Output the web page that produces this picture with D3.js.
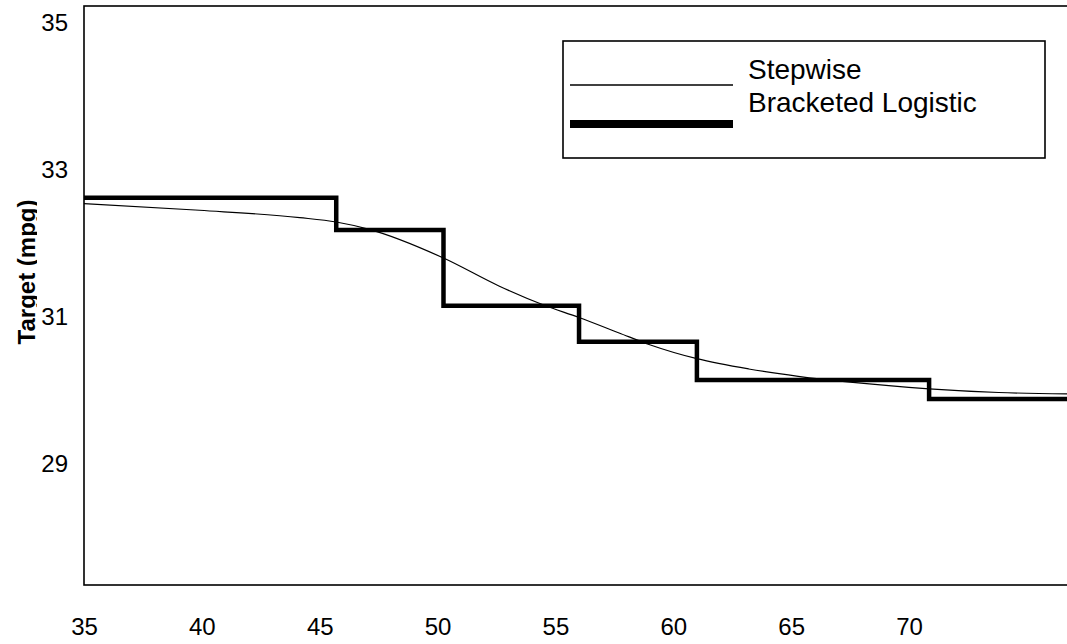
<!DOCTYPE html>
<html>
<head>
<meta charset="utf-8">
<script src="https://cdn.jsdelivr.net/npm/d3@7"></script>
<style>
  body { margin: 0; background: #fff; }
  svg { display: block; font-family: "Liberation Sans", Arial, sans-serif; }
</style>
</head>
<body>
<div id="chart"></div>
<script>
// tick labels
const x_ticks = [35, 40, 45, 50, 55, 60, 65, 70];
const y_ticks = [29, 31, 33, 35];

// stepwise target: bracket edges and level inside each bracket
const step_edges = [35, 45.7, 50.25, 56.0, 61.0, 70.85, 76.7];
const step_levels = [32.62, 32.18, 31.15, 30.66, 30.14, 29.88];

// logistic target
const logistic_x = [35, 39.9, 44.15, 45.7, 47.1, 50.25, 52.6, 54.5, 56.0, 57.7, 59.0, 61.0, 63.2, 65.3, 67.5, 70.85, 73.8, 76.7];
const logistic_y = [32.54, 32.45, 32.35, 32.29, 32.19, 31.8, 31.42, 31.16, 30.99, 30.78, 30.62, 30.43, 30.29, 30.19, 30.11, 30.02, 29.97, 29.95];

const legend_names = ["Stepwise", "Bracketed Logistic"];

const W = 1067, H = 644;
const plot_left = 84, plot_top = 6, plot_bottom = 585;

let svg = d3.select("#chart").append("svg")
    .attr("width", W)
    .attr("height", H);

let x = d3.scaleLinear().domain([35, 76.7]).range([plot_left, W]);
let y = d3.scaleLinear().domain([27.35, 35.23]).range([plot_bottom, plot_top]);

// plot frame (runs off the right edge)
svg.append("rect")
    .attr("x", plot_left)
    .attr("y", plot_top)
    .attr("width", W - plot_left + 10)
    .attr("height", plot_bottom - plot_top)
    .attr("fill", "none")
    .attr("stroke", "#000")
    .attr("stroke-width", 1.6);

let x_axis = svg.append("g")
    .attr("transform", "translate(0," + plot_bottom + ")")
    .call(d3.axisBottom(x).tickValues(x_ticks).tickSize(0).tickPadding(33).tickFormat(d3.format("d")));
x_axis.select(".domain").remove();
x_axis.selectAll("text").attr("font-size", 24).attr("fill", "#000")
    .attr("font-family", "Liberation Sans, Arial, sans-serif");

let y_axis = svg.append("g")
    .attr("transform", "translate(" + plot_left + ",0)")
    .call(d3.axisLeft(y).tickValues(y_ticks).tickSize(0).tickPadding(16).tickFormat(d3.format("d")));
y_axis.select(".domain").remove();
y_axis.selectAll("text").attr("font-size", 24).attr("fill", "#000")
    .attr("font-family", "Liberation Sans, Arial, sans-serif");

// axis title, descenders cut off as in the original
svg.append("clipPath").attr("id", "title_clip")
  .append("rect").attr("x", 0).attr("y", 0).attr("width", 37).attr("height", H);

svg.append("g")
    .attr("clip-path", "url(#title_clip)")
  .append("text")
    .attr("transform", "translate(35,272) rotate(-90)")
    .attr("text-anchor", "middle")
    .attr("font-size", 24)
    .attr("font-weight", "bold")
    .text("Target (mpg)");

let plot = svg.append("g");

// logistic curve (thin)
let logistic_pts = logistic_x.map(function(d, i) { return [d, logistic_y[i]]; });
plot.append("path")
    .datum(logistic_pts)
    .attr("fill", "none")
    .attr("stroke", "#000")
    .attr("stroke-width", 1.2)
    .attr("d", d3.line()
      .x(function(d) { return x(d[0]); })
      .y(function(d) { return y(d[1]); })
      .curve(d3.curveMonotoneX));

// stepwise (thick)
let step_pts = step_levels.map(function(d, i) { return [step_edges[i], d]; });
step_pts.push([step_edges[step_edges.length - 1], step_levels[step_levels.length - 1]]);
plot.append("path")
    .datum(step_pts)
    .attr("fill", "none")
    .attr("stroke", "#000")
    .attr("stroke-width", 4.5)
    .attr("stroke-linejoin", "miter")
    .attr("d", d3.line()
      .x(function(d) { return x(d[0]); })
      .y(function(d) { return y(d[1]); })
      .curve(d3.curveStepAfter));

// legend
let legend = svg.append("g");
legend.append("rect")
    .attr("x", 563).attr("y", 41)
    .attr("width", 482).attr("height", 117)
    .attr("fill", "#fff")
    .attr("stroke", "#000")
    .attr("stroke-width", 1.6);

let legend_widths = [1.5, 8];
let legend_line_y = [85, 124];
let legend_text_y = [79, 112];
legend_names.forEach(function(name, i) {
  legend.append("line")
      .attr("x1", 570).attr("x2", 733)
      .attr("y1", legend_line_y[i]).attr("y2", legend_line_y[i])
      .attr("stroke", "#000")
      .attr("stroke-width", legend_widths[i]);
  legend.append("text")
      .attr("x", 748)
      .attr("y", legend_text_y[i])
      .attr("font-size", 28)
      .text(name);
});
</script>
</body>
</html>
